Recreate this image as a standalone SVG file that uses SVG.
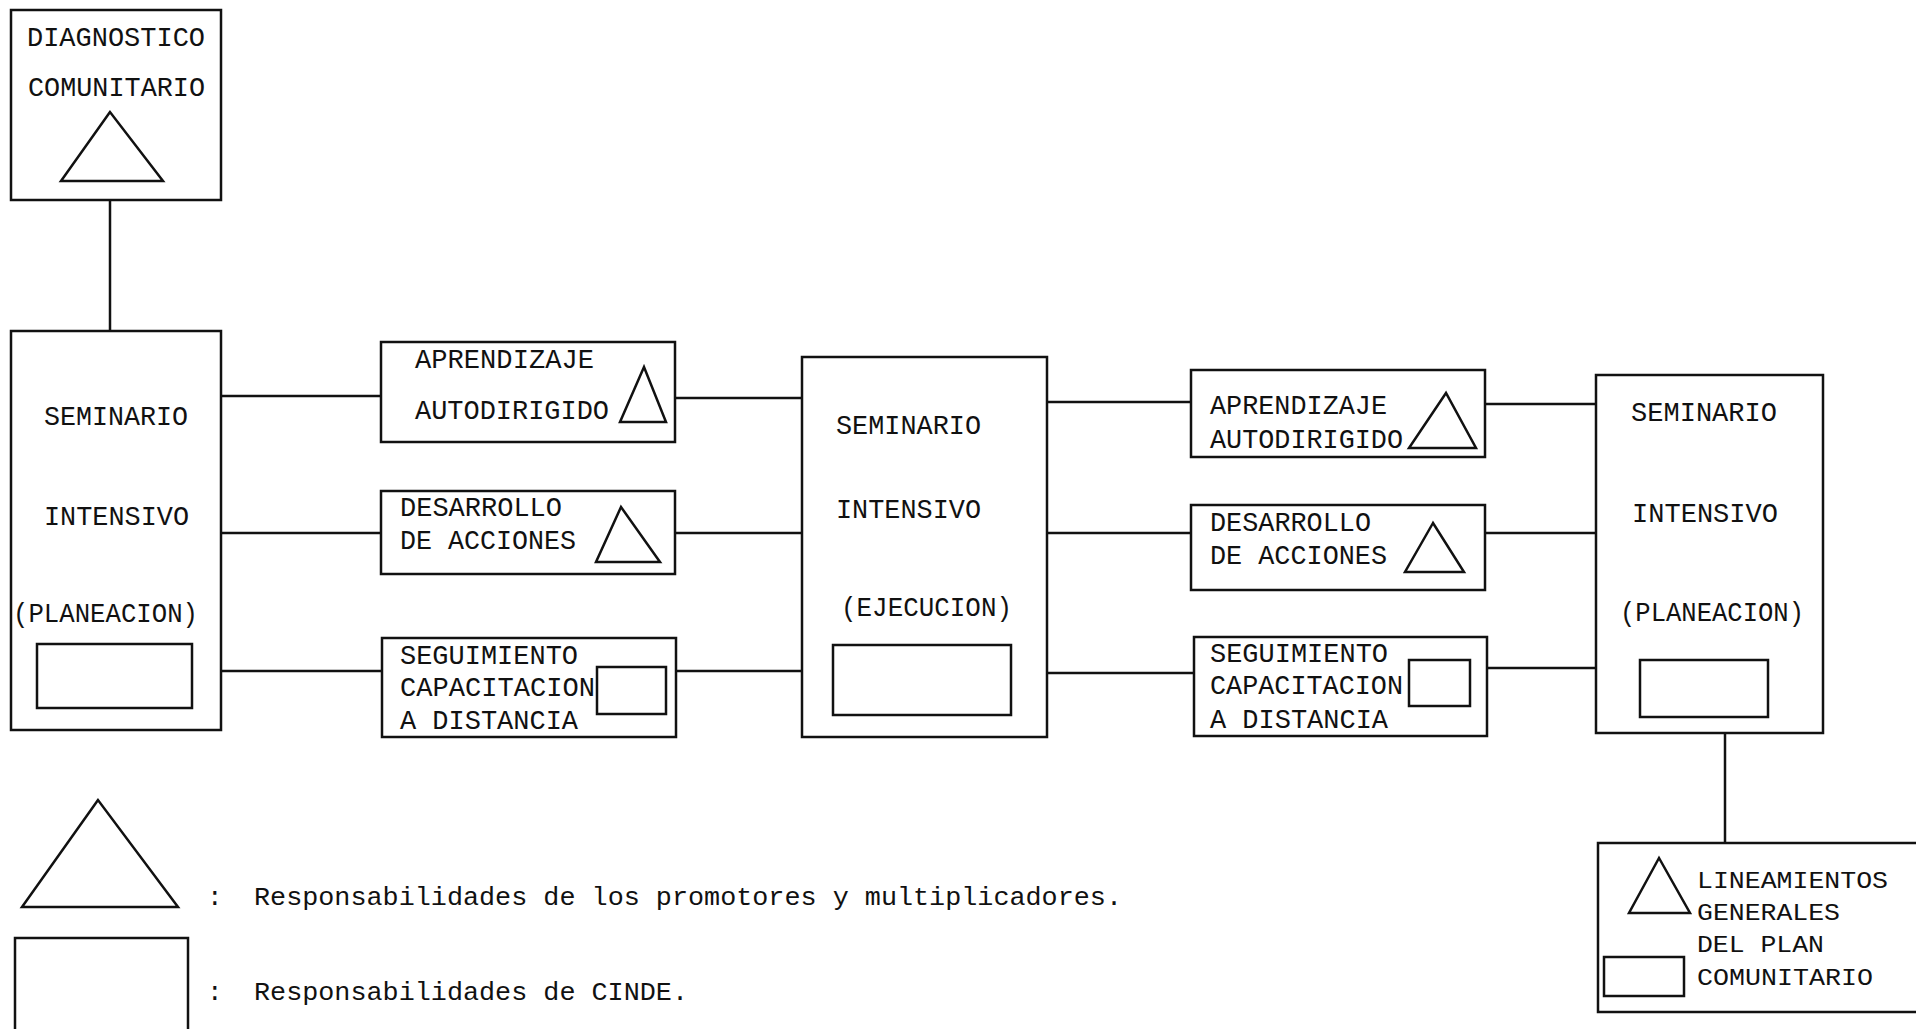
<svg xmlns="http://www.w3.org/2000/svg" width="1916" height="1029" viewBox="0 0 1916 1029">
<style>
.b{fill:none;stroke:#111;stroke-width:2.5}
.t{font-family:"Liberation Mono","DejaVu Sans Mono",monospace;font-size:27px;fill:#111}
.s{font-family:"Liberation Mono","DejaVu Sans Mono",monospace;font-size:23px;fill:#111}
.l{font-family:"Liberation Mono","DejaVu Sans Mono",monospace;font-size:26px;fill:#111}
.c{stroke:#111;stroke-width:2.5;fill:none}
</style>
<rect width="1916" height="1029" fill="#fff"/>
<g id="connectors">
<line class="c" x1="110" y1="200" x2="110" y2="331"/>
<line class="c" x1="221" y1="396" x2="381" y2="396"/>
<line class="c" x1="221" y1="533" x2="381" y2="533"/>
<line class="c" x1="221" y1="671" x2="382" y2="671"/>
<line class="c" x1="675" y1="398" x2="802" y2="398"/>
<line class="c" x1="675" y1="533" x2="802" y2="533"/>
<line class="c" x1="676" y1="671" x2="802" y2="671"/>
<line class="c" x1="1047" y1="402" x2="1191" y2="402"/>
<line class="c" x1="1047" y1="533" x2="1191" y2="533"/>
<line class="c" x1="1047" y1="673" x2="1194" y2="673"/>
<line class="c" x1="1485" y1="404" x2="1596" y2="404"/>
<line class="c" x1="1485" y1="533" x2="1596" y2="533"/>
<line class="c" x1="1487" y1="668" x2="1596" y2="668"/>
<line class="c" x1="1725" y1="733" x2="1725" y2="843"/>
</g>
<g id="diagnostico">
<rect class="b" x="11" y="10" width="210" height="190"/>
<text class="t" x="27" y="46" textLength="178" lengthAdjust="spacingAndGlyphs">DIAGNOSTICO</text>
<text class="t" x="28" y="96" textLength="177" lengthAdjust="spacingAndGlyphs">COMUNITARIO</text>
<polygon class="b" points="110,112 61,181 163,181"/>
</g>
<g id="seminario-planeacion-1">
<rect class="b" x="11" y="331" width="210" height="399"/>
<text class="t" x="44" y="425" textLength="144" lengthAdjust="spacingAndGlyphs">SEMINARIO</text>
<text class="t" x="44" y="525" textLength="145" lengthAdjust="spacingAndGlyphs">INTENSIVO</text>
<text class="t" x="13" y="622" textLength="185" lengthAdjust="spacingAndGlyphs">(PLANEACION)</text>
<rect class="b" x="37" y="644" width="155" height="64"/>
</g>
<g id="aprendizaje-1">
<rect class="b" x="381" y="342" width="294" height="100"/>
<text class="t" x="415" y="368" textLength="179" lengthAdjust="spacingAndGlyphs">APRENDIZAJE</text>
<text class="t" x="415" y="419" textLength="194" lengthAdjust="spacingAndGlyphs">AUTODIRIGIDO</text>
<polygon class="b" points="644,367 620,422 666,422"/>
</g>
<g id="desarrollo-1">
<rect class="b" x="381" y="491" width="294" height="83"/>
<text class="t" x="400" y="516" textLength="162" lengthAdjust="spacingAndGlyphs">DESARROLLO</text>
<text class="t" x="400" y="549" textLength="176" lengthAdjust="spacingAndGlyphs">DE ACCIONES</text>
<polygon class="b" points="621,507 596,562 660,562"/>
</g>
<g id="seguimiento-1">
<rect class="b" x="382" y="638" width="294" height="99"/>
<text class="t" x="400" y="664" textLength="178" lengthAdjust="spacingAndGlyphs">SEGUIMIENTO</text>
<text class="t" x="400" y="696" textLength="195" lengthAdjust="spacingAndGlyphs">CAPACITACION</text>
<text class="t" x="400" y="729" textLength="178" lengthAdjust="spacingAndGlyphs">A DISTANCIA</text>
<rect class="b" x="597" y="667" width="69" height="47"/>
</g>
<g id="seminario-ejecucion">
<rect class="b" x="802" y="357" width="245" height="380"/>
<text class="t" x="836" y="434" textLength="145" lengthAdjust="spacingAndGlyphs">SEMINARIO</text>
<text class="t" x="836" y="518" textLength="145" lengthAdjust="spacingAndGlyphs">INTENSIVO</text>
<text class="t" x="841" y="616" textLength="171" lengthAdjust="spacingAndGlyphs">(EJECUCION)</text>
<rect class="b" x="833" y="645" width="178" height="70"/>
</g>
<g id="aprendizaje-2">
<rect class="b" x="1191" y="370" width="294" height="87"/>
<text class="t" x="1210" y="414" textLength="177" lengthAdjust="spacingAndGlyphs">APRENDIZAJE</text>
<text class="t" x="1210" y="448" textLength="193" lengthAdjust="spacingAndGlyphs">AUTODIRIGIDO</text>
<polygon class="b" points="1446,393 1409,448 1476,448"/>
</g>
<g id="desarrollo-2">
<rect class="b" x="1191" y="505" width="294" height="85"/>
<text class="t" x="1210" y="531" textLength="161" lengthAdjust="spacingAndGlyphs">DESARROLLO</text>
<text class="t" x="1210" y="564" textLength="177" lengthAdjust="spacingAndGlyphs">DE ACCIONES</text>
<polygon class="b" points="1433,523 1405,572 1464,572"/>
</g>
<g id="seguimiento-2">
<rect class="b" x="1194" y="637" width="293" height="99"/>
<text class="t" x="1210" y="662" textLength="178" lengthAdjust="spacingAndGlyphs">SEGUIMIENTO</text>
<text class="t" x="1210" y="694" textLength="193" lengthAdjust="spacingAndGlyphs">CAPACITACION</text>
<text class="t" x="1210" y="728" textLength="178" lengthAdjust="spacingAndGlyphs">A DISTANCIA</text>
<rect class="b" x="1409" y="660" width="61" height="46"/>
</g>
<g id="seminario-planeacion-2">
<rect class="b" x="1596" y="375" width="227" height="358"/>
<text class="t" x="1631" y="421" textLength="146" lengthAdjust="spacingAndGlyphs">SEMINARIO</text>
<text class="t" x="1632" y="522" textLength="146" lengthAdjust="spacingAndGlyphs">INTENSIVO</text>
<text class="t" x="1620" y="621" textLength="184" lengthAdjust="spacingAndGlyphs">(PLANEACION)</text>
<rect class="b" x="1640" y="660" width="128" height="57"/>
</g>
<g id="lineamientos">
<polyline class="b" points="1930,843 1598,843 1598,1012 1930,1012"/>
<polygon class="b" points="1659,858 1629,913 1690,913"/>
<rect class="b" x="1604" y="957" width="80" height="39"/>
<text class="s" x="1697" y="888" textLength="191" lengthAdjust="spacingAndGlyphs">LINEAMIENTOS</text>
<text class="s" x="1697" y="920" textLength="143" lengthAdjust="spacingAndGlyphs">GENERALES</text>
<text class="s" x="1697" y="952" textLength="127" lengthAdjust="spacingAndGlyphs">DEL PLAN</text>
<text class="s" x="1697" y="985" textLength="176" lengthAdjust="spacingAndGlyphs">COMUNITARIO</text>
</g>
<g id="legend">
<polygon class="b" points="98,800 22,907 178,907"/>
<text class="l" x="207" y="905">:</text>
<text class="l" x="254" y="905" textLength="868" lengthAdjust="spacingAndGlyphs">Responsabilidades de los promotores y multiplicadores.</text>
<rect class="b" x="15" y="938" width="173" height="95"/>
<text class="l" x="207" y="1000">:</text>
<text class="l" x="254" y="1000" textLength="434" lengthAdjust="spacingAndGlyphs">Responsabilidades de CINDE.</text>
</g>
</svg>
